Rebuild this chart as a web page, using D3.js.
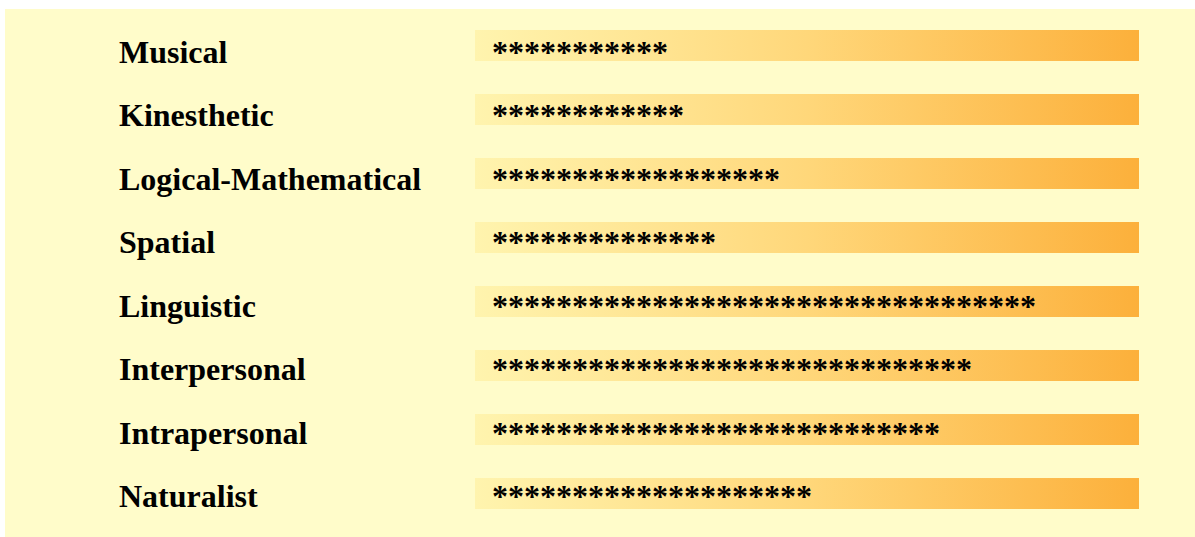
<!DOCTYPE html>
<html>
<head>
<meta charset="utf-8">
<style>
  body { margin: 0; background: #fff; }
  svg { display: block; }
  .label, .stars { font-family: "Liberation Serif", "Times New Roman", serif; font-weight: bold; fill: #000; }
</style>
</head>
<body>
<svg width="1195" height="537"></svg>
<script src="https://d3js.org/d3.v7.min.js"></script>
<script>
// intelligences and how many stars each one got
var categories = ["Musical", "Kinesthetic", "Logical-Mathematical", "Spatial",
                  "Linguistic", "Interpersonal", "Intrapersonal", "Naturalist"];
var stars = [11, 12, 18, 14, 34, 30, 28, 20];

var svg = d3.select("svg"),
    width = +svg.attr("width"),
    height = +svg.attr("height");

// pale panel behind everything
svg.append("rect")
    .attr("x", 5)
    .attr("y", 9)
    .attr("width", width - 5)
    .attr("height", height - 9)
    .attr("fill", "#fffcca");

var grad = svg.append("defs").append("linearGradient")
    .attr("id", "barGrad")
    .attr("x1", "0%").attr("x2", "100%")
    .attr("y1", "0%").attr("y2", "0%");
grad.append("stop").attr("offset", "0%").attr("stop-color", "#fff4ae");
grad.append("stop").attr("offset", "50%").attr("stop-color", "#ffd77a");
grad.append("stop").attr("offset", "100%").attr("stop-color", "#fcb03b");

// bars
var y = d3.scaleBand()
    .domain(categories)
    .range([30, 509])
    .paddingInner(0.516)
    .paddingOuter(0);

// text baselines (the text rows sit on a slightly tighter step than the bars)
var yText = d3.scalePoint()
    .domain(categories)
    .range([63, 507]);

var x = d3.scaleLinear()
    .domain([0, 1])
    .range([475, 1139]);

var data = categories.map(function(c, i) { return {name: c, n: stars[i]}; });

svg.append("g")
  .selectAll("rect")
  .data(data)
  .enter().append("rect")
    .attr("x", x(0))
    .attr("y", function(d) { return y(d.name); })
    .attr("width", x(1) - x(0))
    .attr("height", y.bandwidth())
    .attr("fill", "url(#barGrad)");

svg.append("g")
  .selectAll("text")
  .data(data)
  .enter().append("text")
    .attr("class", "label")
    .attr("x", 119)
    .attr("y", function(d) { return yText(d.name); })
    .attr("font-size", 32)
    .text(function(d) { return d.name; });

svg.append("g")
  .selectAll("text")
  .data(data)
  .enter().append("text")
    .attr("class", "stars")
    .attr("x", x(0) + 17)
    .attr("y", function(d) { return yText(d.name); })
    .attr("font-size", 32)
    .text(function(d) { return "*".repeat(d.n); });
</script>
</body>
</html>
